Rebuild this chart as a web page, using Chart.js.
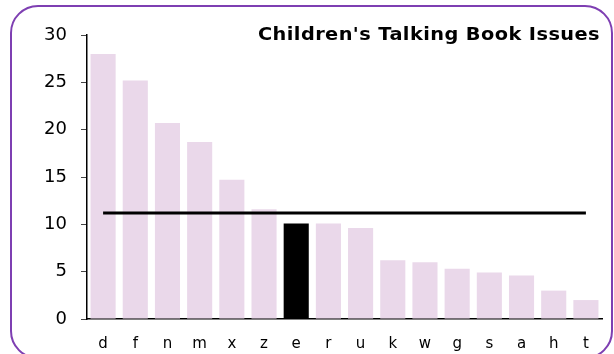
<!DOCTYPE html>
<html>
<head>
<meta charset="utf-8">
<script src="https://cdn.jsdelivr.net/npm/chart.js@4"></script>
<style>
  html, body { margin: 0; padding: 0; background: #fff; overflow: hidden; }
  #wrap { position: relative; width: 614px; height: 354px; overflow: hidden; }
  #frame {
    position: absolute; left: 10px; top: 5px; width: 603px; height: 354px;
    border: 2px solid #7e3fb2; border-radius: 28px; box-sizing: border-box;
  }
  canvas { position: absolute; left: 0; top: 0; }
</style>
</head>
<body>
<div id="wrap">
  <div id="frame"></div>
  <canvas id="issues" width="614" height="354"></canvas>
</div>
<script>
const branches = ['d', 'f', 'n', 'm', 'x', 'z', 'e', 'r', 'u', 'k', 'w', 'g', 's', 'a', 'h', 't'];
const issues = [28.0, 25.2, 20.7, 18.7, 14.7, 11.6, 10.1, 10.1, 9.6, 6.2, 6.0, 5.3, 4.9, 4.6, 3.0, 2.0];
const highlight = 'e';
const average = 11.2;
const yTicks = [0, 5, 10, 15, 20, 25, 30];

const barColours = branches.map(b => b === highlight ? '#000000' : '#ead8ea');

// title sits inside the plot, top right, stretched a little to a wide face
const cornerTitle = {
  id: 'cornerTitle',
  afterDraw(chart) {
    const c = chart.ctx;
    const text = "Children's Talking Book Issues";
    const right = 600, span = 342;
    c.save();
    c.font = 'bold 18px "DejaVu Sans"';
    c.letterSpacing = '0.4px';
    const w = c.measureText(text).width;
    c.translate(right - span, 40);
    c.scale(span / w, 1);
    c.fillStyle = '#000';
    c.textAlign = 'left';
    c.textBaseline = 'alphabetic';
    c.fillText(text, 0, 0);
    c.restore();
  }
};

new Chart(document.getElementById('issues'), {
  type: 'bar',
  data: {
    labels: branches,
    datasets: [
      {
        type: 'line',
        data: branches.map(() => average),
        borderColor: '#000',
        borderWidth: 3,
        pointRadius: 0,
        order: 0
      },
      {
        data: issues,
        backgroundColor: barColours,
        barPercentage: 0.78,
        categoryPercentage: 1,
        order: 1
      }
    ]
  },
  options: {
    responsive: false,
    animation: false,
    layout: { padding: { top: 35, right: 12, bottom: 0, left: 0 } },
    plugins: { legend: { display: false }, tooltip: { enabled: false } },
    scales: {
      x: {
        grid: { display: false },
        border: { color: '#000', width: 1.5 },
        ticks: { color: '#000', font: { family: 'DejaVu Sans', size: 15 }, padding: 8 },
        afterFit: s => { s.height = 35; }
      },
      y: {
        min: 0,
        max: 30,
        afterBuildTicks: s => { s.ticks = yTicks.map(v => ({ value: v })); },
        grid: { drawOnChartArea: false, tickLength: 6, color: '#444' },
        border: { color: '#000', width: 1.5 },
        ticks: { color: '#000', font: { family: 'DejaVu Sans', size: 18 }, padding: 14 },
        afterFit: s => { s.width = 87; }
      }
    }
  },
  plugins: [cornerTitle]
});
</script>
</body>
</html>
